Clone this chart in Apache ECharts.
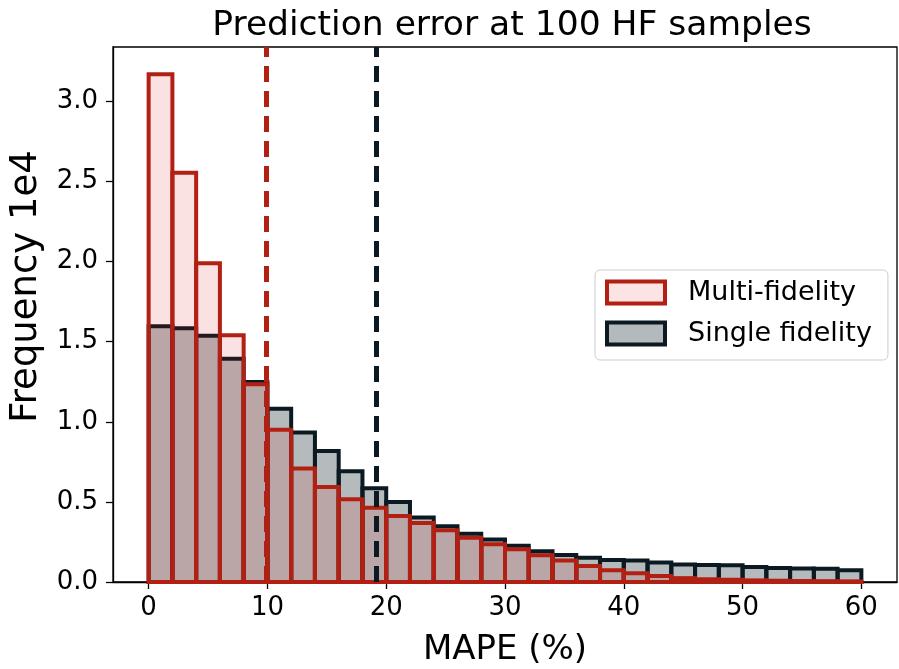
<!DOCTYPE html>
<html>
<head>
<meta charset="utf-8">
<script src="https://cdn.jsdelivr.net/npm/echarts@6/dist/echarts.min.js"></script>
<style>
  html, body { margin: 0; padding: 0; background: #fff; }
  #chart { width: 899px; height: 669px; }
</style>
</head>
<body>
<div id="chart"></div>
<script>
// bin starts (MAPE %), each bin is 2 wide
var binStart = [0, 2, 4, 6, 8, 10, 12, 14, 16, 18, 20, 22, 24, 26, 28,
                30, 32, 34, 36, 38, 40, 42, 44, 46, 48, 50, 52, 54, 56, 58];
var binWidth = 2;
// frequencies in units of 1e4
var multiFidelity = [3.17, 2.555, 1.99, 1.54, 1.234, 0.951, 0.708, 0.593, 0.516, 0.464,
                     0.412, 0.368, 0.323, 0.277, 0.235, 0.204, 0.167, 0.134, 0.100, 0.073,
                     0.054, 0.038, 0.024, 0.017, 0.014, 0.010, 0.008, 0.006, 0.005, 0.004];
var singleFidelity = [1.596, 1.584, 1.538, 1.394, 1.248, 1.082, 0.934, 0.818, 0.691, 0.585,
                      0.499, 0.402, 0.348, 0.302, 0.266, 0.227, 0.192, 0.169, 0.152, 0.137,
                      0.134, 0.121, 0.110, 0.106, 0.104, 0.094, 0.087, 0.085, 0.083, 0.073];
// mean MAPE lines
var meanMulti = 9.9;
var meanSingle = 19.2;
var xTicks = [0, 10, 20, 30, 40, 50, 60];
var yTicks = [0, 0.5, 1.0, 1.5, 2.0, 2.5, 3.0];

var font = 'DejaVu Sans';
var redEdge = '#b22014';
var darkEdge = '#0b1a22';
var redFill = 'rgba(220,20,20,0.12)';
var grayFill = 'rgba(11,26,34,0.3)';

function toData(vals) {
    var out = [];
    for (var i = 0; i < binStart.length; i++) {
        out.push([binStart[i], vals[i]]);
    }
    return out;
}

function histRender(fill, stroke) {
    return function (params, api) {
        var x0 = api.value(0);
        var h = api.value(1);
        var p0 = api.coord([x0, 0]);
        var p1 = api.coord([x0 + binWidth, h]);
        return {
            type: 'rect',
            shape: { x: p0[0], y: p1[1], width: p1[0] - p0[0], height: p0[1] - p1[1] },
            style: { fill: fill, stroke: stroke, lineWidth: 4 }
        };
    };
}

var myChart = echarts.init(document.getElementById('chart'));
var option = {
    animation: false,
    title: {
        text: 'Prediction error at 100 HF samples',
        left: 507,
        textAlign: 'center',
        top: 4,
        textStyle: { fontFamily: font, fontSize: 34.5, fontWeight: 'normal', color: '#000' }
    },
    legend: {
        orient: 'vertical',
        left: 595,
        top: 270,
        padding: [9, 16, 13, 10],
        itemGap: 14,
        itemWidth: 58,
        itemHeight: 22,
        borderColor: '#cccccc',
        borderWidth: 1,
        borderRadius: 5,
        textStyle: { fontFamily: font, fontSize: 27, color: '#000', padding: [0, 0, 0, 18] },
        data: [
            { name: 'Multi-fidelity', icon: 'rect',
              itemStyle: { color: '#fde4e4', borderColor: redEdge, borderWidth: 4 } },
            { name: 'Single fidelity', icon: 'rect',
              itemStyle: { color: '#b4b9bb', borderColor: darkEdge, borderWidth: 4 } }
        ]
    },
    grid: {
        left: 113, right: 2, top: 47, bottom: 87,
        outerBoundsMode: 'none',
        containLabel: false,
        show: true, borderColor: '#000', borderWidth: 1.3
    },
    xAxis: {
        type: 'value',
        min: -3,
        max: 63,
        name: 'MAPE (%)',
        nameLocation: 'middle',
        nameGap: 51,
        nameTextStyle: { fontFamily: font, fontSize: 34, color: '#000' },
        splitLine: { show: false },
        axisLine: { show: true, lineStyle: { color: '#000', width: 1.3 } },
        axisTick: { show: true, length: 7, customValues: xTicks, lineStyle: { color: '#000', width: 1.3 } },
        axisLabel: { customValues: xTicks, fontFamily: font, fontSize: 26, color: '#000', margin: 13 }
    },
    yAxis: {
        type: 'value',
        min: 0,
        max: 3.34,
        name: 'Frequency 1e4',
        nameLocation: 'middle',
        nameRotate: 90,
        nameGap: 68,
        nameTextStyle: { fontFamily: font, fontSize: 37, color: '#000', padding: [0, 0, 0, 56] },
        splitLine: { show: false },
        axisLine: { show: true, onZero: false, lineStyle: { color: '#000', width: 1.3 } },
        axisTick: { show: true, length: 7, customValues: yTicks, lineStyle: { color: '#000', width: 1.3 } },
        axisLabel: {
            customValues: yTicks, fontFamily: font, fontSize: 26, color: '#000', margin: 15,
            formatter: function (v) { return v.toFixed(1); }
        }
    },
    series: [
        {
            name: 'Single fidelity',
            type: 'custom',
            renderItem: histRender(grayFill, darkEdge),
            encode: { x: 0, y: 1 },
            data: toData(singleFidelity),
            z: 2
        },
        {
            name: 'Multi-fidelity',
            type: 'custom',
            renderItem: histRender(redFill, redEdge),
            encode: { x: 0, y: 1 },
            data: toData(multiFidelity),
            z: 3
        },
        {
            type: 'line',
            data: [],
            z: 5,
            markLine: {
                silent: true,
                symbol: 'none',
                label: { show: false },
                data: [
                    { xAxis: meanMulti, lineStyle: { color: redEdge, width: 5, type: [16, 9] } },
                    { xAxis: meanSingle, lineStyle: { color: darkEdge, width: 5, type: [16, 9] } }
                ]
            }
        }
    ]
};
myChart.setOption(option);
</script>
</body>
</html>
